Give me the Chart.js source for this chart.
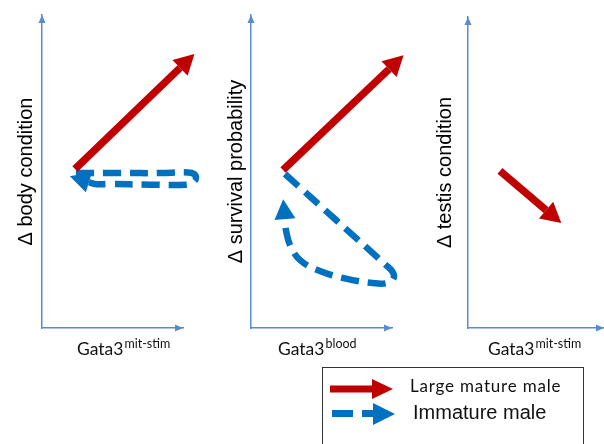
<!DOCTYPE html>
<html lang="en">
<head>
<meta charset="UTF-8">
<title>Gata3 response diagram</title>
<script src="https://cdn.jsdelivr.net/npm/chart.js"></script>
<style>
  body { margin: 0; width: 604px; height: 444px; overflow: hidden; background: #fff; position: relative; }
  canvas { position: absolute; top: 0; }
  #c1 { left: 0; }
  #c2 { left: 210px; }
  #c3 { left: 420px; }
  #legendBox { position: absolute; left: 322px; top: 367px; width: 260px; height: 100px; border: 1px solid #333; }
  #legendArrows { position: absolute; left: 0; top: 0; }
  .legendText { position: absolute; white-space: nowrap; color: #111; }
</style>
</head>
<body>

<canvas id="c1" width="210" height="365"></canvas>
<canvas id="c2" width="210" height="365"></canvas>
<canvas id="c3" width="184" height="365"></canvas>

<div id="legendBox"></div>
<svg id="legendArrows" width="604" height="444">
  <rect x="330" y="385.5" width="43" height="7" fill="#C00000"></rect>
  <polygon points="372,379 393,389 372,399" fill="#C00000"></polygon>
  <rect x="332" y="410" width="21" height="7" fill="#0070C0"></rect>
  <rect x="362" y="410" width="12" height="7" fill="#0070C0"></rect>
  <polygon points="373,403 395,414 373,425" fill="#0070C0"></polygon>
</svg>
<span class="legendText" id="lg1" style="left:410px; top:377px; font: 17px/17px Lato; letter-spacing: 0.8px;"></span>
<span class="legendText" id="lg2" style="left:413px; top:402px; font: 20px/20px 'Liberation Sans';"></span>

<script>
  // labels
  const yTitles = ['\u0394 body condition', '\u0394 survival probability', '\u0394 testis condition'];
  const xTitles = ['Gata3', 'Gata3', 'Gata3'];
  const xSuperscripts = ['mit-stim', 'blood', 'mit-stim'];
  const seriesNames = ['Large mature male', 'Immature male'];

  // trajectories, in axis units (both axes run 0..10)
  const matureBodyX = [2.34, 9.79];
  const matureBodyY = [5.08, 8.31];
  const immatureBodyX = [2.41, 5.53, 8.37, 10.35, 10.78, 10.92, 10.71, 10.21, 7.66, 4.82, 3.76, 3.33];
  const immatureBodyY = [4.95, 4.95, 4.95, 4.97, 4.92, 4.79, 4.66, 4.58, 4.58, 4.60, 4.60, 4.66];

  const matureSurvivalX = [2.27, 9.79];
  const matureSurvivalY = [5.05, 8.27];
  const immatureSurvivalX = [2.41, 6.03, 9.57, 10.0, 10.14, 9.86, 9.01, 6.81, 4.89, 3.48, 2.77, 2.48, 2.41];
  const immatureSurvivalY = [4.92, 3.45, 2.01, 1.82, 1.63, 1.47, 1.42, 1.57, 1.82, 2.17, 2.65, 3.13, 3.48];

  const matureTestisX = [2.35, 5.74];
  const matureTestisY = [5.05, 3.79];

  const RED = '#C00000';
  const BLUE = '#0070C0';
  const AXIS = '#5A8AD0';

  document.getElementById('lg1').textContent = seriesNames[0];
  document.getElementById('lg2').textContent = seriesNames[1];

  function toPoints(xs, ys) {
    return xs.map((x, i) => ({ x: x, y: ys[i] }));
  }

  function mature(xs, ys) {
    return {
      label: seriesNames[0], data: toPoints(xs, ys),
      borderColor: RED, borderWidth: 7.5, tension: 0,
      headLength: 20, headWidth: 22
    };
  }

  function immature(xs, ys) {
    return {
      label: seriesNames[1], data: toPoints(xs, ys),
      borderColor: BLUE, borderWidth: 6.5, borderDash: [18, 9], tension: 0.4,
      headLength: 20, headWidth: 21
    };
  }

  // arrow heads on each trajectory, arrows on the axes, x label with superscript
  const arrowHeads = {
    id: 'arrowHeads',
    afterDatasetsDraw(chart) {
      const ctx = chart.ctx;
      chart.data.datasets.forEach((ds, i) => {
        const pts = chart.getDatasetMeta(i).data;
        const a = pts[pts.length - 2], b = pts[pts.length - 1];
        const ang = Math.atan2(b.y - a.y, b.x - a.x);
        ctx.save();
        ctx.translate(b.x, b.y);
        ctx.rotate(ang);
        ctx.beginPath();
        ctx.moveTo(ds.headLength, 0);
        ctx.lineTo(0, -ds.headWidth / 2);
        ctx.lineTo(0, ds.headWidth / 2);
        ctx.closePath();
        ctx.fillStyle = ds.borderColor;
        ctx.fill();
        ctx.restore();
      });
    },
    afterDraw(chart, args, opts) {
      const ctx = chart.ctx;
      const area = chart.chartArea;
      ctx.save();
      ctx.fillStyle = AXIS;
      ctx.beginPath();
      ctx.moveTo(area.left, area.top);
      ctx.lineTo(area.left - 3.5, area.top + 8);
      ctx.lineTo(area.left + 3.5, area.top + 8);
      ctx.closePath();
      ctx.fill();
      ctx.beginPath();
      ctx.moveTo(area.right, area.bottom);
      ctx.lineTo(area.right - 8, area.bottom - 3.5);
      ctx.lineTo(area.right - 8, area.bottom + 3.5);
      ctx.closePath();
      ctx.fill();

      ctx.fillStyle = '#111';
      ctx.textBaseline = 'alphabetic';
      ctx.font = '17.5px Lato';
      ctx.fillText(opts.main, opts.x, 355);
      const w = ctx.measureText(opts.main).width;
      ctx.font = '12.5px Lato';
      ctx.fillText(opts.sup, opts.x + w + 1, 348);
      ctx.restore();
    }
  };

  function makePanel(id, datasets, yTitle, xLabel, layout) {
    return new Chart(document.getElementById(id), {
      type: 'scatter',
      data: { datasets: datasets },
      options: {
        responsive: false,
        animation: false,
        showLine: true,
        clip: false,
        layout: { padding: { left: 0, top: layout.top, right: layout.right, bottom: 0 } },
        elements: { point: { radius: 0, hoverRadius: 0 } },
        plugins: {
          legend: { display: false },
          tooltip: { enabled: false },
          arrowHeads: xLabel
        },
        scales: {
          x: {
            type: 'linear', min: 0, max: 10,
            grid: { display: false },
            border: { display: true, color: AXIS, width: 1.5 },
            ticks: { display: false },
            afterFit: (s) => { s.height = 37; }
          },
          y: {
            type: 'linear', min: 0, max: 10,
            grid: { display: false },
            border: { display: true, color: AXIS, width: 1.5 },
            ticks: { display: false },
            title: {
              display: true, text: yTitle, color: '#000',
              font: { family: 'Liberation Sans', size: 20 },
              padding: { top: layout.titlePad, bottom: 0 }
            },
            afterFit: (s) => { s.width = layout.left; }
          }
        }
      },
      plugins: [arrowHeads]
    });
  }

  makePanel('c1',
    [mature(matureBodyX, matureBodyY), immature(immatureBodyX, immatureBodyY)],
    yTitles[0], { main: xTitles[0], sup: xSuperscripts[0], x: 77 },
    { left: 42, top: 15, right: 27, titlePad: 14 });

  makePanel('c2',
    [mature(matureSurvivalX, matureSurvivalY), immature(immatureSurvivalX, immatureSurvivalY)],
    yTitles[1], { main: xTitles[1], sup: xSuperscripts[1], x: 68 },
    { left: 41, top: 15, right: 28, titlePad: 14 });

  makePanel('c3',
    [mature(matureTestisX, matureTestisY)],
    yTitles[2], { main: xTitles[2], sup: xSuperscripts[2], x: 68 },
    { left: 48, top: 17, right: 0, titlePad: 13 });
</script>

</body>
</html>
